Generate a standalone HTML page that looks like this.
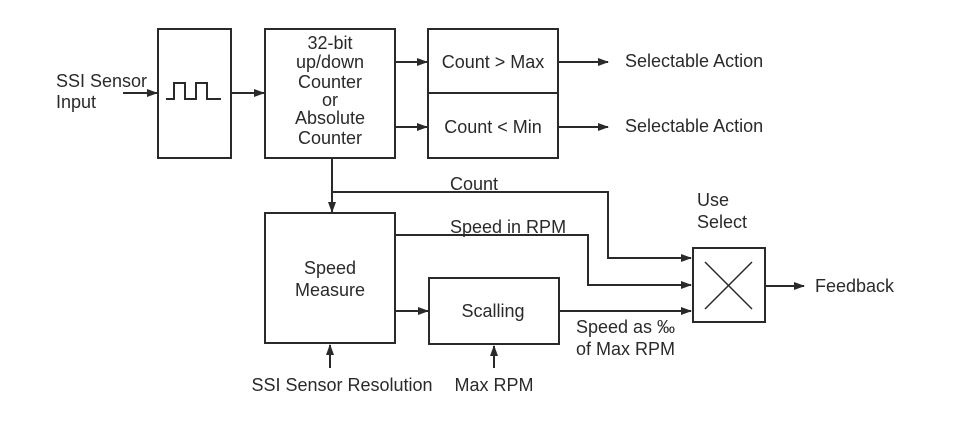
<!DOCTYPE html>
<html><head><meta charset="utf-8"><style>
html,body{margin:0;padding:0;background:#fff}
svg text{font-family:"Liberation Sans",sans-serif;font-size:18px;fill:#2a2a2a}
</style></head><body>
<svg width="966" height="422" viewBox="0 0 966 422" xmlns="http://www.w3.org/2000/svg">
<defs><marker id="a" markerWidth="11" markerHeight="9" refX="10" refY="4.5" orient="auto" markerUnits="userSpaceOnUse"><path d="M0,0.5 L11,4.5 L0,8.5 z" fill="#2a2a2a"/></marker></defs>
<g fill="none" stroke="#2a2a2a" stroke-width="2">
<rect x="158" y="29" width="73" height="129"/>
<rect x="265" y="29" width="130" height="129"/>
<rect x="428" y="29" width="130" height="129"/>
<line x1="428" y1="93" x2="558" y2="93"/>
<rect x="265" y="213" width="130" height="130"/>
<rect x="429" y="278" width="130" height="66"/>
<rect x="693" y="248" width="72" height="74"/>
<line x1="705" y1="262" x2="752" y2="309" stroke-width="1.5"/>
<line x1="752" y1="262" x2="705" y2="309" stroke-width="1.5"/>
<polyline points="166,99 174,99 174,83 185,83 185,99 196,99 196,83 207,83 207,99 221,99"/>
<line x1="123" y1="93" x2="157" y2="93" marker-end="url(#a)"/>
<line x1="231" y1="93" x2="264" y2="93" marker-end="url(#a)"/>
<line x1="395" y1="62" x2="427" y2="62" marker-end="url(#a)"/>
<line x1="395" y1="127" x2="427" y2="127" marker-end="url(#a)"/>
<line x1="558" y1="62" x2="608" y2="62" marker-end="url(#a)"/>
<line x1="558" y1="127" x2="608" y2="127" marker-end="url(#a)"/>
<line x1="332" y1="158" x2="332" y2="212" marker-end="url(#a)"/>
<polyline points="332,192 608,192 608,258 691,258" marker-end="url(#a)"/>
<polyline points="395,235 588,235 588,285 691,285" marker-end="url(#a)"/>
<line x1="395" y1="311" x2="428" y2="311" marker-end="url(#a)"/>
<line x1="559" y1="311" x2="691" y2="311" marker-end="url(#a)"/>
<line x1="765" y1="286" x2="804" y2="286" marker-end="url(#a)"/>
<line x1="330" y1="368" x2="330" y2="345" marker-end="url(#a)"/>
<line x1="494" y1="368" x2="494" y2="346" marker-end="url(#a)"/>
</g>
<text x="56" y="87">SSI Sensor</text>
<text x="56" y="108">Input</text>
<g text-anchor="middle">
<text x="330" y="49">32-bit</text>
<text x="330" y="68">up/down</text>
<text x="330" y="88">Counter</text>
<text x="330" y="106">or</text>
<text x="330" y="124">Absolute</text>
<text x="330" y="144">Counter</text>
<text x="493" y="68">Count &gt; Max</text>
<text x="493" y="133">Count &lt; Min</text>
<text x="330" y="274">Speed</text>
<text x="330" y="296">Measure</text>
<text x="493" y="317">Scalling</text>
<text x="342" y="391">SSI Sensor Resolution</text>
<text x="494" y="391">Max RPM</text>
</g>
<text x="625" y="67">Selectable Action</text>
<text x="625" y="132">Selectable Action</text>
<text x="450" y="190">Count</text>
<text x="450" y="233">Speed in RPM</text>
<text x="697" y="206">Use</text>
<text x="697" y="228">Select</text>
<text x="576" y="333">Speed as ‰</text>
<text x="576" y="355">of Max RPM</text>
<text x="815" y="292">Feedback</text>
</svg>
</body></html>
